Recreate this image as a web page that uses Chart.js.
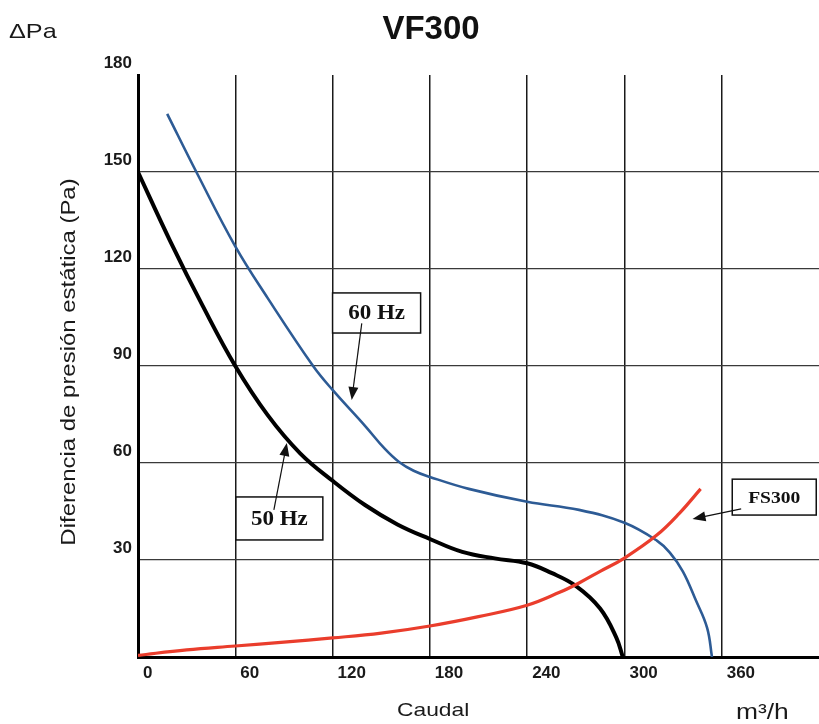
<!DOCTYPE html>
<html>
<head>
<meta charset="utf-8">
<script src="https://cdn.jsdelivr.net/npm/chart.js@4.4.1/dist/chart.umd.min.js"></script>
<style>
	html, body { margin: 0; padding: 0; background: #fff; }
	#wrap { width: 819px; height: 724px; position: relative; }
</style>
</head>
<body>
<div id="wrap"><canvas id="chart-vf300"></canvas></div>
<script>
// Curves: flow (m3/h) and static pressure (Pa)
const FLOW_50HZ = [0, 20, 40, 60, 80, 100, 120, 140, 160, 180, 200, 220, 240, 255, 270, 285, 295, 299];
const PRES_50HZ = [150, 128.5, 108.5, 90, 74.8, 63, 54.5, 47, 41, 36.5, 32.5, 30.5, 29, 26, 22, 15, 6, 0];

const FLOW_60HZ = [18, 36, 60, 80, 108, 120, 140, 152, 161, 170, 180, 204, 240, 272, 300, 320, 328, 336, 344, 351, 354];
const PRES_60HZ = [168, 150, 127, 111, 90, 82.6, 71.5, 64.5, 60.3, 57.6, 55.7, 52, 48, 45.5, 41.5, 36, 32.3, 26.5, 17.6, 9, 0];

const FLOW_FS300 = [0, 30, 60, 90, 120, 150, 180, 210, 240, 260, 272, 285, 300, 320, 334, 347];
const PRES_FS300 = [0.5, 2.2, 3.4, 4.6, 5.9, 7.4, 9.6, 12.5, 16, 20, 22.9, 26.5, 30.6, 37.7, 44.5, 52];

const X_MIN = 0;
const X_MAX = 420;
const X_STEP = 60;
const X_LAST_LABEL = 360;
const Y_MIN = 0;
const Y_MAX = 180;
const Y_STEP = 30;

const COLORS = {
	BLACK: "#000000",
	BLUE: "#2d5b95",
	RED: "#ea3d2c",
	GRID_V: "#1a1a1a",
	GRID_H: "#3a3a3a",
	TEXT: "#1a1a1a",
	NONE: "rgba(0,0,0,0)",
};

// Callout boxes, placed in data units: [x1, yTop, x2, yBottom], arrow from -> to
const CALLOUTS = [
	{ text: "60 Hz", box: [120, 112.6, 174.3, 100.2], from: [138, 103.2], to: [131.8, 79.5], font: "bold 20px 'Liberation Serif'", sx: 1.15 },
	{ text: "50 Hz", box: [60.4, 49.5, 114, 36.2], from: [83.8, 45.5], to: [91.8, 66.2], font: "bold 20px 'Liberation Serif'", sx: 1.15 },
	{ text: "FS300", box: [366.5, 55, 418.3, 43.9], from: [372, 45.8], to: [342, 42.7], font: "bold 17px 'Liberation Serif'", sx: 1.15 },
];

const toPoints = (xs, ys) => xs.map((x, i) => ({ x, y: ys[i] }));

const drawText = (ctx, text, x, y, font, opts = {}) => {
	ctx.save();
	ctx.translate(x, y);
	if (opts.rotate) ctx.rotate(opts.rotate);
	ctx.scale(opts.sx || 1, 1);
	ctx.font = font;
	ctx.fillStyle = opts.color || COLORS.TEXT;
	ctx.textAlign = opts.align || "left";
	ctx.textBaseline = opts.baseline || "alphabetic";
	ctx.fillText(text, 0, 0);
	ctx.restore();
};

// Titles and unit labels around the plot
const textPlugin = {
	id: "vf300Text",
	afterDraw(chart) {
		const { ctx } = chart;
		drawText(ctx, "VF300", 431, 39, "bold 33px 'Liberation Sans'", { align: "center", color: "#111" });
		drawText(ctx, "\u0394Pa", 9, 38, "21px 'Liberation Sans'", { sx: 1.2 });
		drawText(ctx, "Diferencia de presión estática (Pa)", 69, 362, "21px 'Liberation Sans'", {
			rotate: -Math.PI / 2,
			sx: 1.14,
			align: "center",
			baseline: "middle",
		});
		drawText(ctx, "Caudal", 397, 716, "19px 'Liberation Sans'", { sx: 1.2 });
		drawText(ctx, "m\u00b3/h", 736, 719, "22px 'Liberation Sans'", { sx: 1.2 });
	},
};

// Boxed labels with arrows pointing at the curves
const calloutPlugin = {
	id: "vf300Callouts",
	afterDatasetsDraw(chart) {
		const { ctx, scales } = chart;
		const px = (v) => scales.x.getPixelForValue(v);
		const py = (v) => scales.y.getPixelForValue(v);

		CALLOUTS.forEach((c) => {
			const x1 = px(c.box[0]);
			const y1 = py(c.box[1]);
			const x2 = px(c.box[2]);
			const y2 = py(c.box[3]);

			ctx.save();
			ctx.fillStyle = "#fff";
			ctx.fillRect(x1, y1, x2 - x1, y2 - y1);
			ctx.strokeStyle = "#111";
			ctx.lineWidth = 1.5;
			ctx.strokeRect(x1, y1, x2 - x1, y2 - y1);
			ctx.restore();

			drawText(ctx, c.text, (x1 + x2) / 2, (y1 + y2) / 2 + 1, c.font, { align: "center", baseline: "middle", sx: c.sx, color: "#111" });

			const fx = px(c.from[0]);
			const fy = py(c.from[1]);
			const tx = px(c.to[0]);
			const ty = py(c.to[1]);
			const ang = Math.atan2(ty - fy, tx - fx);
			const headLen = 13;
			const headW = 5;

			ctx.save();
			ctx.strokeStyle = "#111";
			ctx.fillStyle = "#111";
			ctx.lineWidth = 1.2;
			ctx.beginPath();
			ctx.moveTo(fx, fy);
			ctx.lineTo(tx - Math.cos(ang) * headLen * 0.8, ty - Math.sin(ang) * headLen * 0.8);
			ctx.stroke();
			ctx.beginPath();
			ctx.moveTo(tx, ty);
			ctx.lineTo(tx - Math.cos(ang) * headLen - Math.sin(ang) * headW, ty - Math.sin(ang) * headLen + Math.cos(ang) * headW);
			ctx.lineTo(tx - Math.cos(ang) * headLen + Math.sin(ang) * headW, ty - Math.sin(ang) * headLen - Math.cos(ang) * headW);
			ctx.closePath();
			ctx.fill();
			ctx.restore();
		});
	},
};

const CHART_DATA = {
	datasets: [
		{
			label: "FS300",
			data: toPoints(FLOW_FS300, PRES_FS300),
			borderColor: COLORS.RED,
			borderWidth: 3.2,
			tension: 0.4,
			pointRadius: 0,
		},
		{
			label: "60 Hz",
			data: toPoints(FLOW_60HZ, PRES_60HZ),
			borderColor: COLORS.BLUE,
			borderWidth: 2.6,
			tension: 0.4,
			pointRadius: 0,
		},
		{
			label: "50 Hz",
			data: toPoints(FLOW_50HZ, PRES_50HZ),
			borderColor: COLORS.BLACK,
			borderWidth: 4,
			tension: 0.4,
			pointRadius: 0,
		},
	],
};

const TICK_FONT = { family: "'Liberation Sans'", size: 17, weight: "bold" };

const CHART_CONFIG = {
	type: "line",
	data: CHART_DATA,
	options: {
		responsive: true,
		maintainAspectRatio: false,
		animation: false,
		layout: {
			padding: { top: 75, left: 0, right: 0, bottom: 0 },
		},
		scales: {
			x: {
				type: "linear",
				min: X_MIN,
				max: X_MAX,
				border: { display: true, color: COLORS.BLACK, width: 3 },
				grid: {
					drawTicks: false,
					lineWidth: 1.5,
					color: (ctx) => (ctx.tick && (ctx.tick.value === X_MIN || ctx.tick.value > X_LAST_LABEL) ? COLORS.NONE : COLORS.GRID_V),
				},
				ticks: {
					stepSize: X_STEP,
					align: "start",
					labelOffset: 5,
					padding: 6,
					color: COLORS.TEXT,
					font: TICK_FONT,
					callback: (v) => (v > X_LAST_LABEL ? "" : v),
				},
				afterFit: (scale) => {
					scale.height = 67;
					scale.paddingLeft = 0;
					scale.paddingRight = 0;
				},
			},
			y: {
				min: Y_MIN,
				max: Y_MAX,
				border: { display: true, color: COLORS.BLACK, width: 3 },
				grid: {
					drawTicks: false,
					lineWidth: 1.2,
					color: (ctx) => (ctx.tick && (ctx.tick.value === Y_MAX || ctx.tick.value === Y_MIN) ? COLORS.NONE : COLORS.GRID_H),
				},
				ticks: {
					stepSize: Y_STEP,
					labelOffset: -12,
					padding: 6,
					color: COLORS.TEXT,
					font: TICK_FONT,
					callback: (v) => (v === Y_MIN ? "" : v),
				},
				afterFit: (scale) => {
					scale.width = 138;
					scale.paddingTop = 0;
					scale.paddingBottom = 0;
				},
			},
		},
		plugins: {
			legend: { display: false },
			tooltip: { enabled: false },
		},
	},
	plugins: [calloutPlugin, textPlugin],
};

const CHART_WRAPPER = document.getElementById("chart-vf300");
if (CHART_WRAPPER) {
	new Chart(CHART_WRAPPER, CHART_CONFIG);
}
</script>
</body>
</html>
